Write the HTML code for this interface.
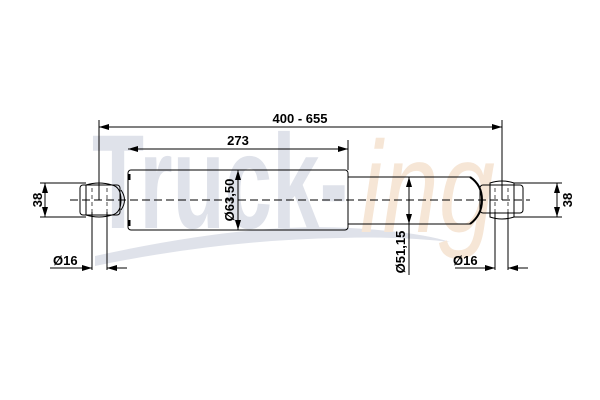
<!DOCTYPE html>
<html><head><style>body{margin:0;background:#fff}svg{display:block}</style></head><body>
<svg width="600" height="400" viewBox="0 0 600 400" xmlns="http://www.w3.org/2000/svg" font-family="Liberation Sans, sans-serif" font-weight="bold">
<defs>
<marker id="a" viewBox="0 0 10 6" refX="10" refY="3" markerWidth="10" markerHeight="6" orient="auto-start-reverse" markerUnits="userSpaceOnUse"><path d="M0,0L10,3L0,6z" fill="#000"/></marker>
</defs>
<!-- watermark -->
<path d="M95,256 Q250,222 350,228 Q420,232 450,242 Q400,236 340,238 Q220,240 95,266z" fill="#dfe2ea"/>
<text x="92" y="228" font-size="134" fill="#dfe2ea" textLength="256" lengthAdjust="spacingAndGlyphs">Truck-</text>
<text x="360" y="232" font-size="130" font-style="italic" font-weight="normal" fill="#f6e6d6" textLength="135" lengthAdjust="spacingAndGlyphs">ing</text>
<g stroke="#000" fill="none" stroke-width="1">
<path d="M86,185 Q99,181 112,185 Q121,187 121,200 Q121,213 112,215 Q99,219 86,215z"/>
<rect x="80" y="185" width="40" height="30" rx="3"/>
<path d="M121,190 Q128,200 121,210"/>
<rect x="128" y="170" width="220" height="60" rx="3"/>
<path d="M129,174 V180 M129,220 V226" stroke-width="3"/>
<path d="M348,177 H470 M348,224 H470"/>
<path d="M470,177 Q482,185 482,200 Q482,215 470,224" stroke-width="2"/>
<path d="M490,183 Q502,179 514,183 V217 Q502,221 490,217z"/>
<rect x="480" y="185" width="43" height="28" rx="3"/>
<path d="M70,200 H530" stroke-dasharray="8,4"/>
<path d="M92,188 V212 M107,188 V212 M495,188 V212 M508,188 V212" stroke-dasharray="4,3" stroke-width="0.7"/>
<path d="M99,120 V200 M502,120 V200"/>
<path d="M99,127 H502" marker-start="url(#a)" marker-end="url(#a)"/>
<path d="M348,140 V170"/>
<path d="M128,149 H348" marker-start="url(#a)" marker-end="url(#a)"/>
<path d="M238,170 V230" marker-start="url(#a)" marker-end="url(#a)"/>
<path d="M409,177 V224" marker-start="url(#a)" marker-end="url(#a)"/>
<path d="M409,224 V275"/>
<path d="M40,183 H86 M40,217 H86"/>
<path d="M45,183 V217" marker-start="url(#a)" marker-end="url(#a)"/>
<path d="M514,183 H562 M514,217 H562"/>
<path d="M557,183 V217" marker-start="url(#a)" marker-end="url(#a)"/>
<path d="M92,212 V270 M107,212 V270 M495,212 V270 M508,212 V270"/>
<path d="M50,268 H92" marker-end="url(#a)"/>
<path d="M107,268 H127" marker-start="url(#a)"/>
<path d="M455,268 H495" marker-end="url(#a)"/>
<path d="M508,268 H528" marker-start="url(#a)"/>
</g>
<g font-size="13" fill="#000">
<text x="300" y="123" text-anchor="middle">400 - 655</text>
<text x="238" y="145" text-anchor="middle">273</text>
<text x="53" y="265">Ø16</text>
<text x="453" y="265">Ø16</text>
<text transform="translate(42,200) rotate(-90)" text-anchor="middle">38</text>
<text transform="translate(572,200) rotate(-90)" text-anchor="middle">38</text>
<text transform="translate(234,200) rotate(-90)" text-anchor="middle">Ø63,50</text>
<text transform="translate(405,252) rotate(-90)" text-anchor="middle">Ø51,15</text>
</g>
</svg>
</body></html>
